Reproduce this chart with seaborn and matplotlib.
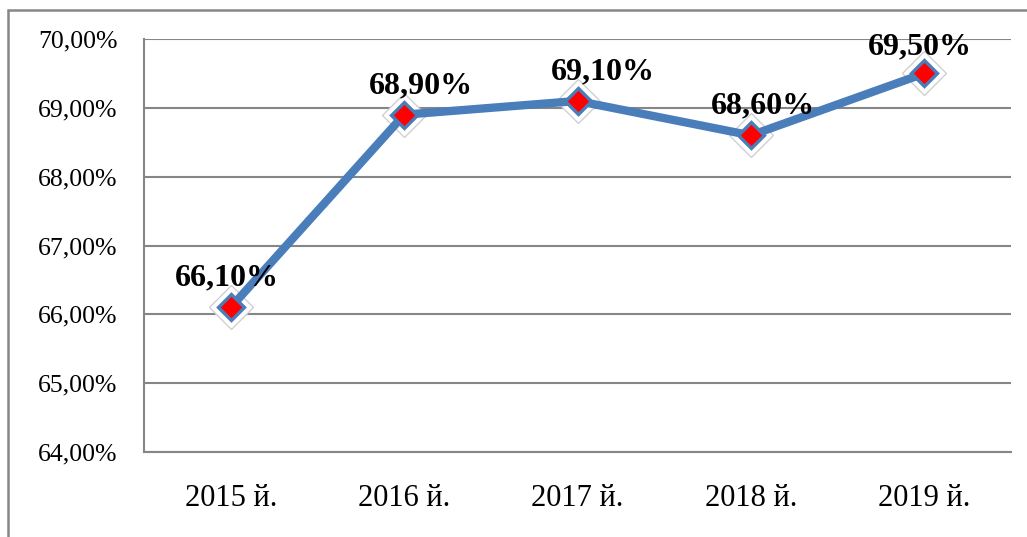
import matplotlib
matplotlib.use("Agg")
import matplotlib.pyplot as plt
import matplotlib.patches as mpatches
import seaborn as sns
import pandas as pd

# chart data
years = ["2015 й.", "2016 й.", "2017 й.", "2018 й.", "2019 й."]
values = [66.10, 68.90, 69.10, 68.60, 69.50]
labels = ["66,10%", "68,90%", "69,10%", "68,60%", "69,50%"]
y_ticks = [64, 65, 66, 67, 68, 69, 70]
y_tick_labels = ["64,00%", "65,00%", "66,00%", "67,00%", "68,00%", "69,00%", "70,00%"]

df = pd.DataFrame({"pos": range(len(years)), "value": values})

sns.set_style("white")
plt.rcParams["font.family"] = ["Liberation Serif", "DejaVu Serif"]
plt.rcParams["text.color"] = "black"
plt.rcParams["xtick.labelcolor"] = "black"
plt.rcParams["ytick.labelcolor"] = "black"

fig = plt.figure(figsize=(10.27, 5.37), dpi=100)
ax = fig.add_axes([144 / 1027, 1 - 452 / 537, (1011 - 144) / 1027, (452 - 39) / 537])

grid_col = "#868686"
for t in y_ticks:
    ax.axhline(t, color=grid_col, lw=1.5, zorder=0)

# glow behind markers
ax.plot(df["pos"], df["value"], ls="none", marker="D", markersize=22,
        markerfacecolor="white", markeredgecolor="#d0d0d0", markeredgewidth=1, zorder=2)

sns.lineplot(data=df, x="pos", y="value", ax=ax, color="#4a7ebb", linewidth=6,
             zorder=3, legend=False)
ax.plot(df["pos"], df["value"], ls="none", marker="D", markersize=13,
        markerfacecolor="#ff0000", markeredgecolor="#4a7ebb", markeredgewidth=2.4, zorder=4)

# data labels
label_dx = [-3, 12, 18, 9, -3]
label_dy = [21, 21, 21, 21, 19]
for i, (v, lab) in enumerate(zip(values, labels)):
    ax.annotate(lab, (i, v), xytext=(label_dx[i], label_dy[i]), textcoords="offset points",
                ha="center", va="center", fontsize=23, fontweight="bold", color="black", zorder=5)

ax.set_xlim(-0.5, len(years) - 0.5)
ax.set_ylim(64, 70)
ax.set_yticks(y_ticks)
ax.set_yticklabels(y_tick_labels)
ax.set_xticks(range(len(years)))
ax.set_xticklabels(years)
ax.set_xticks([i - 0.5 for i in range(len(years) + 1)], minor=True)
ax.tick_params(axis="x", which="major", length=0, pad=23, labelsize=22, labelcolor="black")
ax.tick_params(axis="x", which="minor", length=6, width=1.5, color=grid_col, direction="out")
ax.tick_params(axis="y", length=6, width=1.5, color=grid_col, direction="out", pad=13,
               labelsize=18.5, labelcolor="black")
ax.set_xlabel("")
ax.set_ylabel("")

for side in ["top", "right"]:
    ax.spines[side].set_visible(False)
for side in ["left", "bottom"]:
    ax.spines[side].set_color(grid_col)
    ax.spines[side].set_linewidth(1.5)

# outer chart frame
frame = mpatches.Rectangle((8 / 1027, -0.1), 1.2, 1 - 10 / 537 + 0.1, transform=fig.transFigure,
                           fill=False, edgecolor=grid_col, linewidth=1.8)
fig.add_artist(frame)

fig.savefig("out.png", dpi=100)
